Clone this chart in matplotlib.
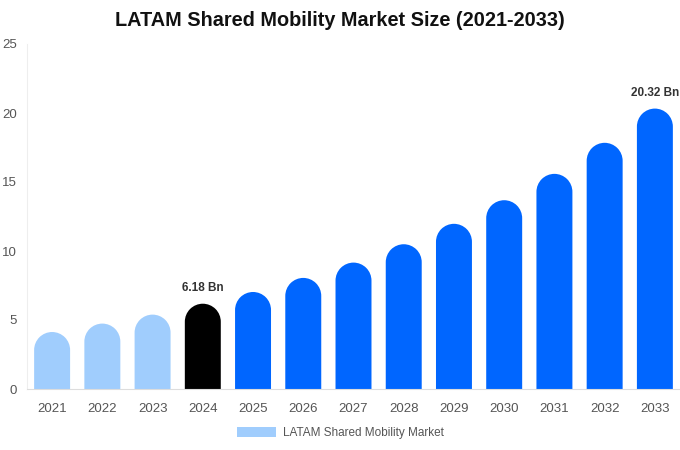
import matplotlib.pyplot as plt
import numpy as np
from matplotlib.path import Path
from matplotlib.patches import PathPatch, Patch

plt.rcParams['font.family'] = ['Liberation Sans', 'DejaVu Sans']

years = ['2021', '2022', '2023', '2024', '2025', '2026', '2027',
         '2028', '2029', '2030', '2031', '2032', '2033']
values = [4.13, 4.74, 5.39, 6.18, 7.03, 8.05, 9.16,
          10.49, 11.97, 13.68, 15.59, 17.84, 20.32]
colors = ['#a0cdfd'] * 3 + ['#000000'] + ['#0066ff'] * 9
labels = {3: '6.18 Bn', 12: '20.32 Bn'}

fig = plt.figure(figsize=(6.8, 4.5), dpi=100)
ax = fig.add_axes([27 / 680, 1 - 389 / 450, 653 / 680, (389 - 44) / 450])
ax.set_xlim(-0.5, len(years) - 0.5)
ax.set_ylim(0, 25)

bw = 0.716
# radius of the round cap in y units
px_per_x = 653 / len(years)
px_per_y = (389 - 44) / 25
ry = (bw / 2) * px_per_x / px_per_y

arc = Path.arc(0, 180)
for i, v in enumerate(values):
    top = arc.vertices * [bw / 2, ry] + [i, v - ry]
    verts = np.vstack([[i + bw / 2, 0], top, [i - bw / 2, 0], [i + bw / 2, 0]])
    codes = [Path.MOVETO] + [Path.LINETO] + list(arc.codes[1:]) + [Path.LINETO, Path.CLOSEPOLY]
    ax.add_patch(PathPatch(Path(verts, codes), facecolor=colors[i], edgecolor='none'))
    if i in labels:
        ax.text(i, v + 1.16, labels[i], ha='center', va='center', fontsize=8.5,
                fontweight='bold', color='#333333')

ax.set_xticks(range(len(years)))
ax.set_xticklabels(years)
ax.set_yticks([0, 5, 10, 15, 20, 25])
ax.tick_params(axis='both', length=0, labelsize=9.5, colors='#555555')
ax.tick_params(axis='x', pad=10)
ax.tick_params(axis='y', pad=7.5)
for s in ['top', 'right']:
    ax.spines[s].set_visible(False)
ax.spines['left'].set_color('#eeeeee')
ax.spines['bottom'].set_color('#dddddd')

fig.suptitle('LATAM Shared Mobility Market Size (2021-2033)', x=0.5, y=1 - 21 / 450,
             va='center', fontsize=14.3, fontweight='bold', color='#111111')

fig.legend(handles=[Patch(facecolor='#a0cdfd', label='LATAM Shared Mobility Market')],
           loc='center', bbox_to_anchor=(0.5, 1 - 433 / 450), frameon=False,
           fontsize=8.5, handlelength=3.3, handleheight=1.0, handletextpad=0.6,
           labelcolor='#555555')

fig.savefig('out.png', dpi=100)
